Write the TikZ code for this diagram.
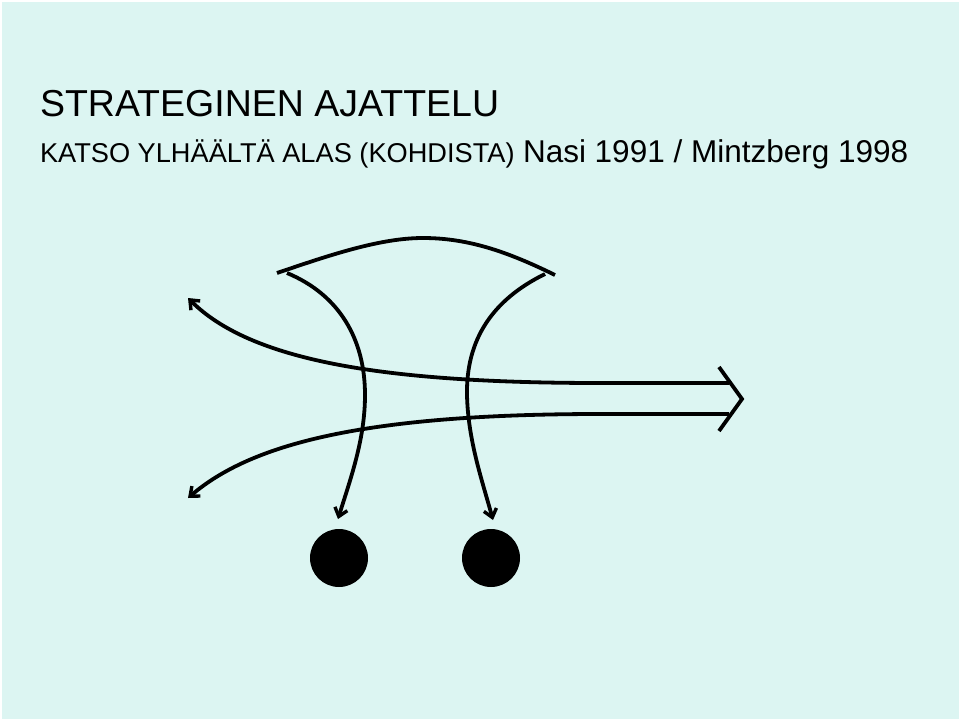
\documentclass[tikz,border=0pt]{standalone}
\usepackage{fontspec}
\setmainfont{Liberation Sans}
\usetikzlibrary{arrows.meta}
\definecolor{bgcyan}{RGB}{220,245,242}
\tikzset{
  ln/.style={line width=3.8pt, black},
  arr/.style={ln, -{Straight Barb[length=8pt,width=13pt,line width=3.4pt]}},
  txt/.style={anchor=base west, inner sep=0pt, outer sep=0pt},
  dot/.style={circle, fill=black, minimum size=58pt, inner sep=0pt}
}
\begin{document}
\begin{tikzpicture}[x=1pt,y=-1pt]
\fill[white] (0,0) rectangle (960,720);
\fill[bgcyan] (1.5,1.5) rectangle (958.5,718.5);
\useasboundingbox (0,0) rectangle (960,720);
% texts
\node[txt, font=\fontsize{37.5}{40}\selectfont] (title) at (40,116) {STRATEGINEN AJATTELU};
\node[txt, font=\fontsize{27.2}{30}\selectfont] (sub) at (40,162) {KATSO YLHÄÄLTÄ ALAS (KOHDISTA)};
\node[txt, font=\fontsize{31.5}{34}\selectfont] (ref) at (523,162) {Nasi 1991 / Mintzberg 1998};
% coordinates
\coordinate (ul) at (188,298);
\coordinate (ll) at (188,498);
\coordinate (ue) at (729,383);
\coordinate (le) at (729,414);
\coordinate (ct) at (719,367);
\coordinate (cm) at (742,399);
\coordinate (cb) at (719,431);
\coordinate (ftl) at (287,273);
\coordinate (ftr) at (545,274);
\coordinate (al) at (277,273);
\coordinate (ar) at (555,275);
\coordinate (tl) at (338,519);
\coordinate (tr) at (493,520);
% dots
\node[dot] (d1) at (339,558) {};
\node[dot] (d2) at (491,558) {};
% top arc
\draw[ln] (al) .. controls (330,255) and (380,238) .. (423,238) .. controls (470,238) and (510,253) .. (ar);
% funnels
\draw[arr] (ftl) .. controls (340,295) and (365,340) .. (365,395) .. controls (365,440) and (350,480) .. (tl);
\draw[arr] (ftr) .. controls (492,300) and (466,340) .. (467,395) .. controls (468,440) and (482,480) .. (tr);
% main shafts
\draw[arr] (ue) -- (600,383) .. controls (380,383) and (250,360) .. (ul);
\draw[arr] (le) -- (600,414) .. controls (360,414) and (250,445) .. (ll);
% chevron
\draw[ln, line join=miter] (ct) -- (cm) -- (cb);
\end{tikzpicture}
\end{document}
